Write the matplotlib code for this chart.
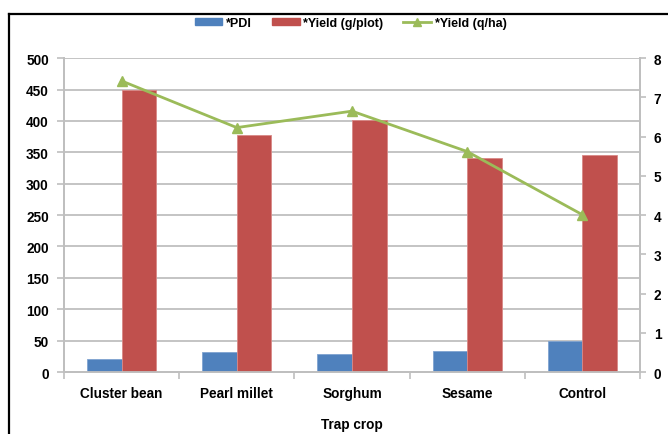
import numpy as np
import matplotlib.pyplot as plt
from matplotlib.lines import Line2D

# Trap crop trial: disease index and yields
crops = ['Cluster bean', 'Pearl millet', 'Sorghum', 'Sesame', 'Control']
pdi = [20, 32, 29, 34, 50]
yield_g_plot = [450, 377, 401, 341, 345]
yield_q_ha = [7.42, 6.23, 6.65, 5.62, 4.01]

blue = '#4F81BD'
red = '#C0504D'
green = '#9BBB59'
grid_gray = '#BFBFBF'

plt.rcParams['font.family'] = ['Liberation Sans', 'DejaVu Sans']
plt.rcParams['font.weight'] = 'bold'

fig = plt.figure(figsize=(6.68, 4.35), dpi=100)
ax = fig.add_axes([0.0958, 0.1425, 0.8622, 0.7215])
ax2 = ax.twinx()

x = np.arange(len(crops))
w = 0.3
ax.bar(x - w / 2, pdi, w, color=blue, edgecolor='#7FA3D0', linewidth=0.6, zorder=3)
ax.bar(x + w / 2, yield_g_plot, w, color=red, edgecolor='#D98886', linewidth=0.6, zorder=3)
ax2.plot(x, yield_q_ha, color=green, linewidth=2, marker='^', markersize=7, zorder=4)

ax.set_xlim(-0.5, len(crops) - 0.5)
ax.set_ylim(0, 500)
ax.set_yticks(np.arange(0, 501, 50))
ax2.set_ylim(0, 8)
ax2.set_yticks(np.arange(0, 9, 1))

ax.grid(axis='y', color=grid_gray, linewidth=1.3, zorder=0)
ax.set_axisbelow(True)

ax.set_xticks(x)
ax.set_xticklabels(crops, fontsize=9.8, fontweight='bold')
ax.set_xticks(np.arange(-0.5, len(crops), 1), minor=True)
ax.tick_params(axis='x', which='major', length=0, pad=10)
ax.tick_params(axis='x', which='minor', length=5, color=grid_gray, width=1.2)
ax.tick_params(axis='y', length=5, color=grid_gray, width=1.2, labelsize=9.8, pad=6)
ax2.tick_params(axis='y', length=4, color=grid_gray, width=1.2, labelsize=9.8, pad=6)

for a in (ax, ax2):
    a.spines['top'].set_visible(False)
    for side in ['left', 'right', 'bottom']:
        a.spines[side].set_color(grid_gray)
        a.spines[side].set_linewidth(1.3)

ax.set_xlabel('Trap crop', fontsize=9.8, fontweight='bold', labelpad=12)

# Legend across the top
handles = [
    plt.Rectangle((0, 0), 1, 1, color=blue),
    plt.Rectangle((0, 0), 1, 1, color=red),
    Line2D([], [], color=green, linewidth=2, marker='^', markersize=6),
]
fig.legend(handles, ['*PDI', '*Yield (g/plot)', '*Yield (q/ha)'],
           loc='center', bbox_to_anchor=(0.525, 0.945), ncol=3, frameon=False,
           fontsize=9, handlelength=2.2, handleheight=0.45, handletextpad=0.3,
           columnspacing=1.6)

# Outer frame (top and left edges)
fig.add_artist(Line2D([9 / 668, 1.0], [1 - 15 / 435, 1 - 15 / 435],
                      transform=fig.transFigure, color='black', linewidth=1.6))
fig.add_artist(Line2D([9 / 668, 9 / 668], [0.0, 1 - 15 / 435],
                      transform=fig.transFigure, color='black', linewidth=1.6))

fig.savefig('out.png', dpi=100)
